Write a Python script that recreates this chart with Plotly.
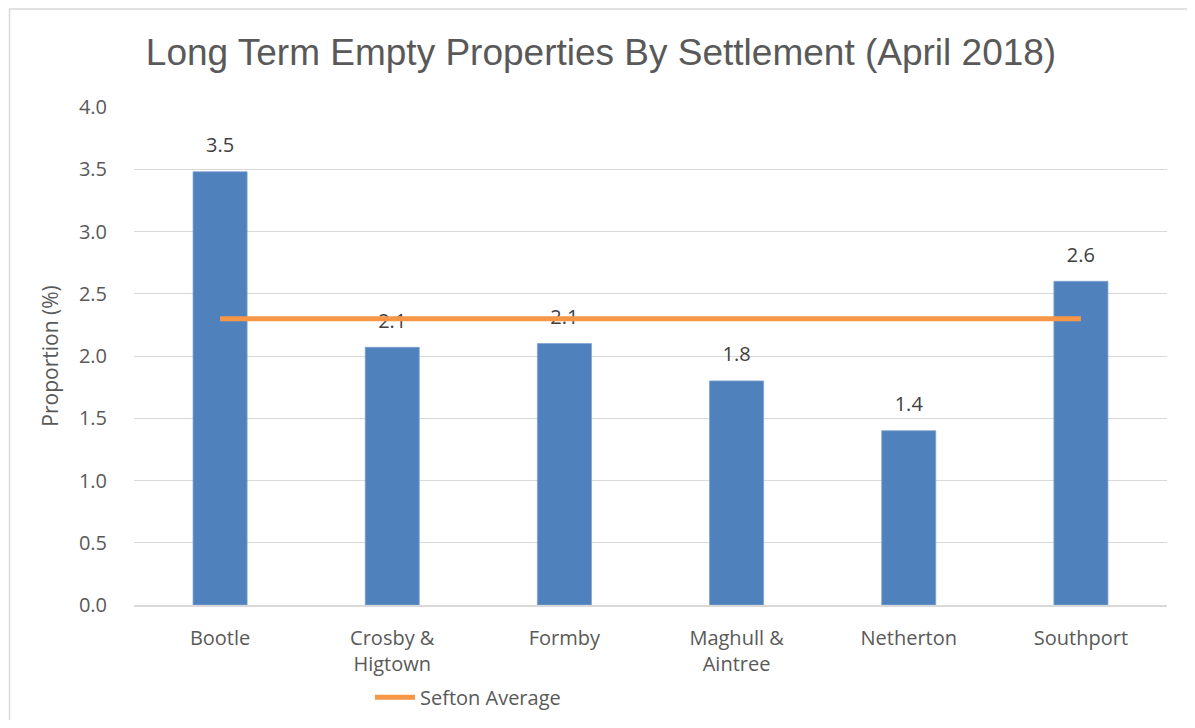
import plotly.graph_objects as go

categories = ["Bootle", "Crosby &<br>Higtown", "Formby", "Maghull &<br>Aintree", "Netherton", "Southport"]
proportions = [3.48, 2.07, 2.10, 1.80, 1.40, 2.60]
bar_labels = ["3.5", "2.1", "2.1", "1.8", "1.4", "2.6"]
sefton_average = [2.3, 2.3, 2.3, 2.3, 2.3, 2.3]
y_ticks = [0.0, 0.5, 1.0, 1.5, 2.0, 2.5, 3.0, 3.5, 4.0]

FONT = "Open Sans"
GREY = "#595959"

fig = go.Figure()
fig.add_trace(go.Bar(
    x=categories, y=proportions,
    marker=dict(color="#4F81BD", line=dict(color="#7FA3D0", width=0.8)),
    showlegend=False, name="Proportion", hoverinfo="x+y",
))
# data labels (drawn beneath the average line, as in the reference)
fig.add_trace(go.Scatter(
    x=categories, y=proportions, text=bar_labels, mode="markers+text",
    textposition="top center",
    textfont=dict(family=FONT, size=20, color="#404040"),
    marker=dict(size=22, opacity=0), cliponaxis=False,
    showlegend=False, hoverinfo="skip",
))
fig.add_trace(go.Scatter(
    x=categories, y=sefton_average, mode="lines", name="Sefton Average",
    line=dict(color="#F79646", width=5),
))

# page body has an 8px margin: figure is sized/offset to land on the reference pixels
fig.update_layout(
    width=1179, height=712,
    paper_bgcolor="white", plot_bgcolor="white",
    margin=dict(l=126, r=20, t=99, b=115, autoexpand=False),
    bargap=0.686,
    title=dict(text="Long Term Empty Properties By Settlement (April 2018)",
               font=dict(family="Liberation Sans", size=37, color=GREY),
               x=0.503, xanchor="center", xref="container",
               y=0.938, yanchor="middle", yref="container"),
    font=dict(family=FONT, size=20, color=GREY),
    legend=dict(orientation="h", x=0.307, xanchor="left", xref="container",
                y=0.032, yanchor="middle", yref="container",
                font=dict(family=FONT, size=20, color=GREY),
                itemwidth=40, tracegroupgap=0),
    shapes=[dict(type="rect", xref="paper", yref="paper",
                 x0=-0.1205, x1=1.2, y0=-0.5, y1=1.197,
                 line=dict(color="#D9D9D9", width=1.5), layer="below")],
)
fig.update_xaxes(showgrid=False, showline=True, linecolor="#D9D9D9", linewidth=1.5,
                 ticks="", ticklabelstandoff=14,
                 tickfont=dict(family=FONT, size=20, color=GREY))
fig.update_yaxes(range=[0, 4], tickvals=y_ticks, tickformat=".1f",
                 showgrid=True, gridcolor="#D9D9D9", gridwidth=1.2, zeroline=False,
                 showline=False, ticks="", ticklabelstandoff=26,
                 tickfont=dict(family=FONT, size=20, color=GREY),
                 title=dict(text="Proportion (%)", standoff=14,
                            font=dict(family=FONT, size=21, color=GREY)))

fig.write_html("out.html")
